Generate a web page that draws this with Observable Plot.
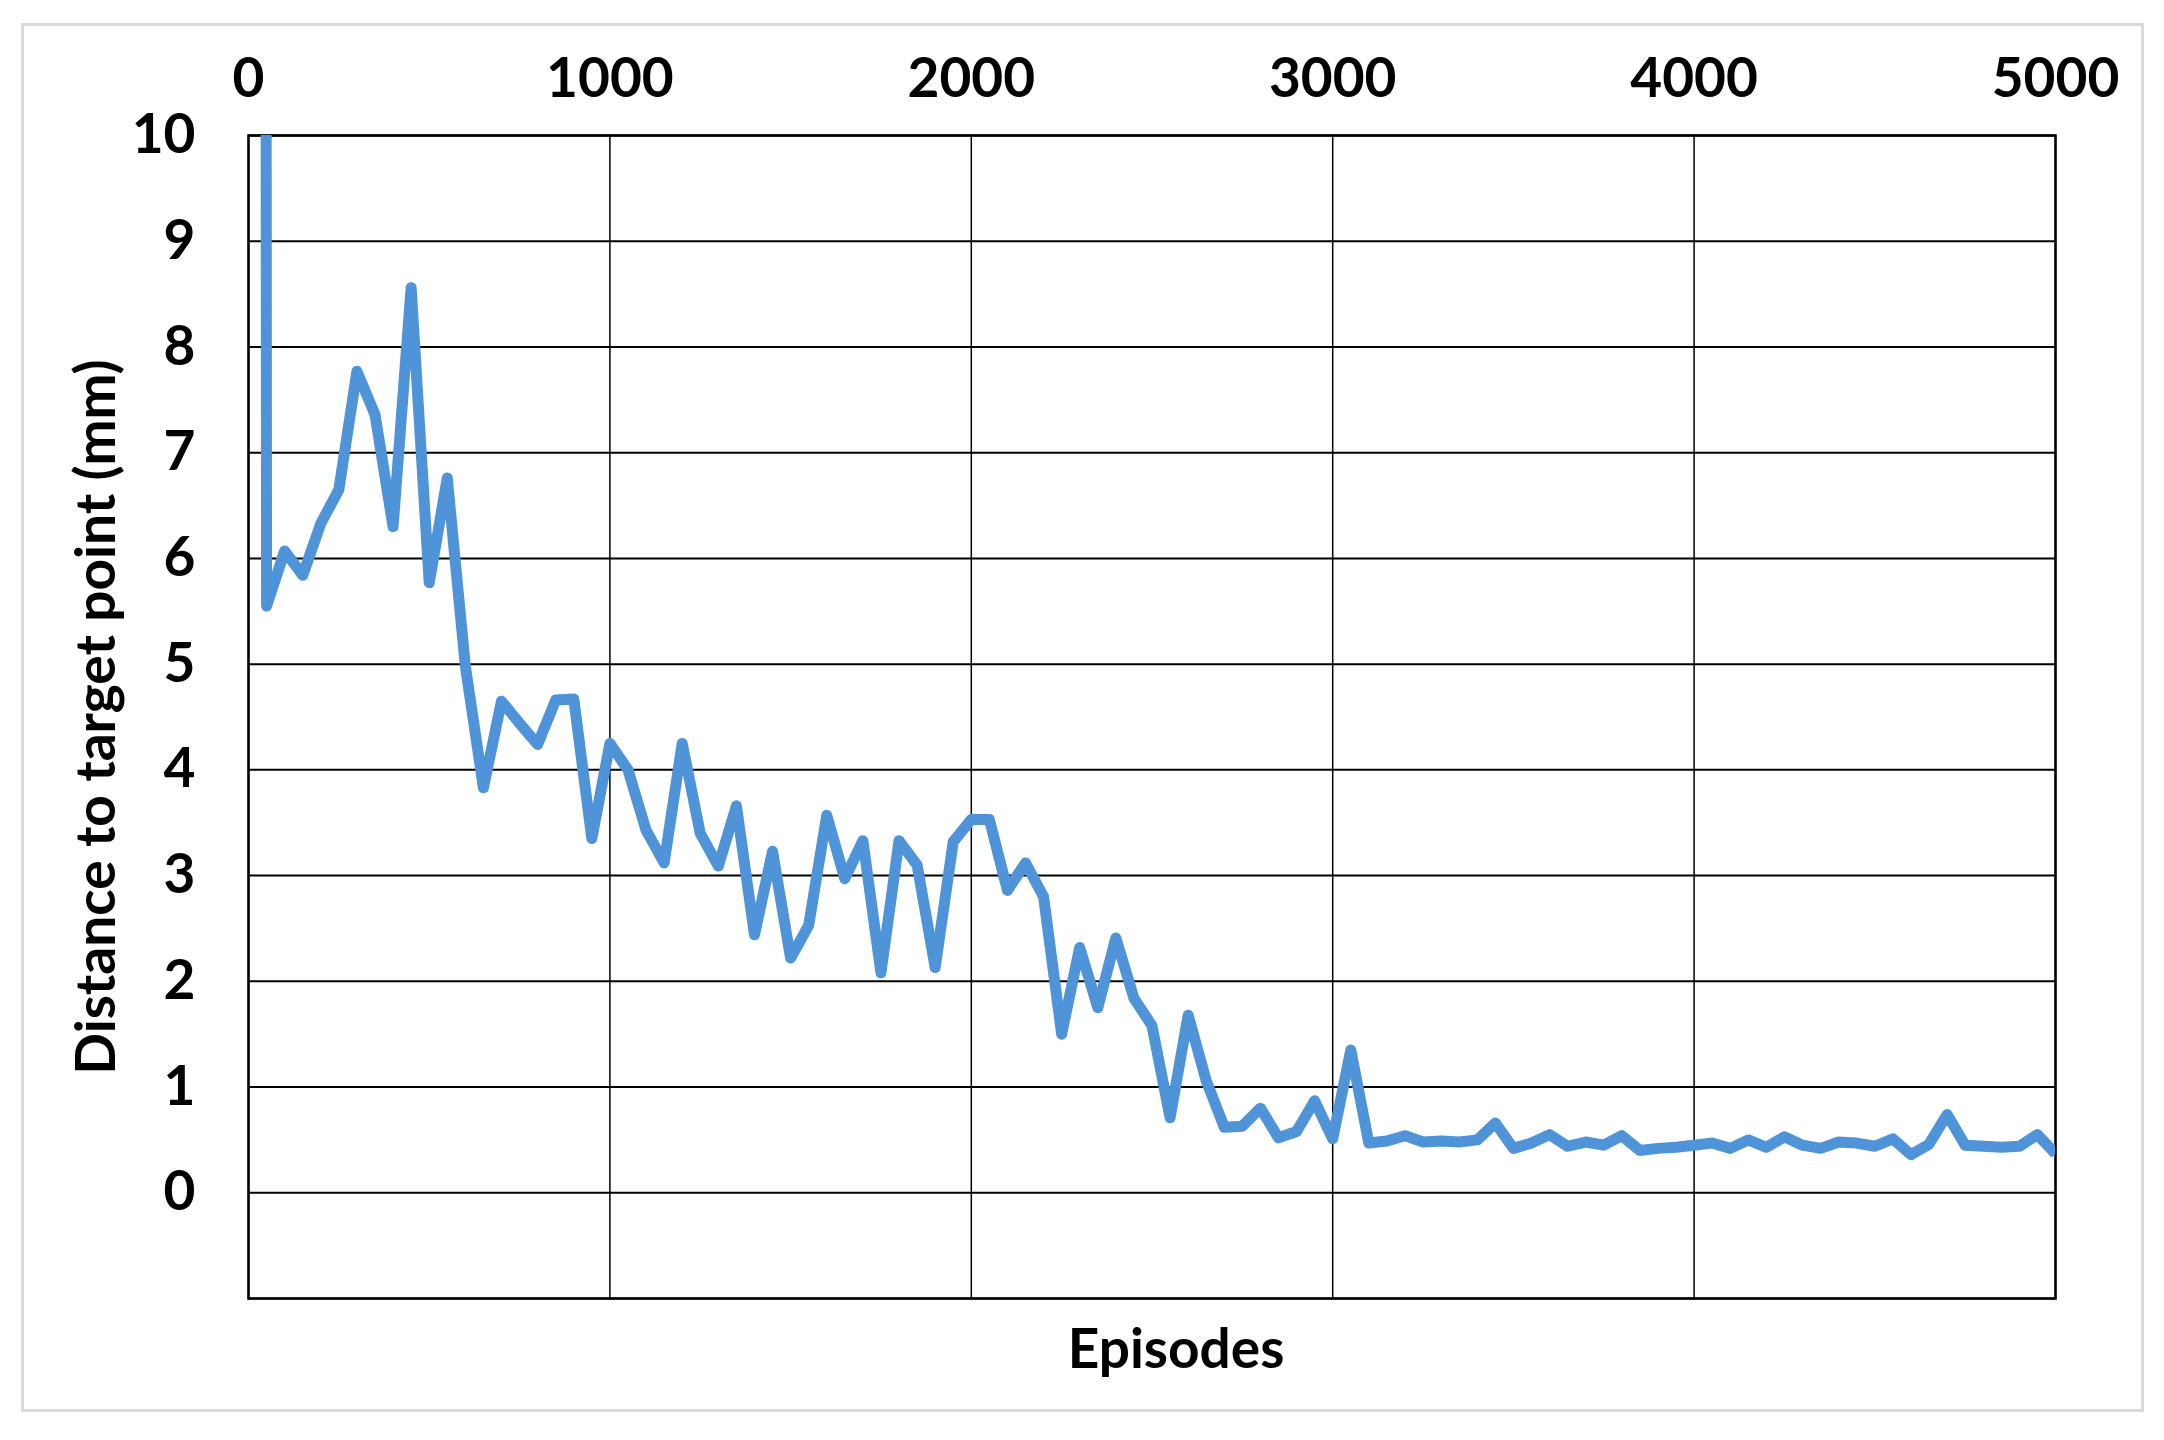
<!DOCTYPE html>
<html><head><meta charset="utf-8">
<script src="https://cdn.jsdelivr.net/npm/d3@7"></script>
<script src="https://cdn.jsdelivr.net/npm/@observablehq/plot@0.6"></script>
<style>
html,body{margin:0;padding:0;background:#fff;}
#wrap{position:relative;width:2164px;height:1440px;}
#wrap svg{position:absolute;left:0;top:0;}
#border{position:absolute;left:21px;top:23px;width:2123px;height:1389px;border:3px solid #d9d9d9;box-sizing:border-box;z-index:1;pointer-events:none;}
</style></head><body><div id="wrap"><div id="border"></div></div>
<script>
const episodes = [0,50,100,150,200,250,300,350,400,450,500,550,600,650,700,750,800,850,900,950,
1000,1050,1100,1150,1200,1250,1300,1350,1400,1450,1500,1550,1600,1650,1700,1750,1800,1850,1900,1950,
2000,2050,2100,2150,2200,2250,2300,2350,2400,2450,2500,2550,2600,2650,2700,2750,2800,2850,2900,2950,
3000,3050,3100,3150,3200,3250,3300,3350,3400,3450,3500,3550,3600,3650,3700,3750,3800,3850,3900,3950,
4000,4050,4100,4150,4200,4250,4300,4350,4400,4450,4500,4550,4600,4650,4700,4750,4800,4850,4900,4950,5000];
const distance = [200,5.55,6.07,5.84,6.33,6.65,7.77,7.36,6.30,8.56,5.77,6.76,4.98,3.83,4.65,4.44,4.24,4.66,4.67,3.35,
4.25,4.00,3.43,3.12,4.25,3.40,3.09,3.66,2.44,3.23,2.22,2.53,3.57,2.97,3.33,2.08,3.33,3.10,2.13,3.32,
3.53,3.53,2.86,3.12,2.80,1.50,2.32,1.75,2.41,1.84,1.58,0.71,1.68,1.06,0.62,0.63,0.80,0.52,0.58,0.87,
0.51,1.35,0.47,0.49,0.54,0.48,0.49,0.48,0.50,0.66,0.42,0.47,0.55,0.44,0.48,0.45,0.54,0.40,0.42,0.43,
0.45,0.47,0.42,0.50,0.43,0.53,0.45,0.42,0.48,0.47,0.44,0.51,0.36,0.46,0.74,0.45,0.44,0.43,0.44,0.55,0.37];
const xTicks = [0,1000,2000,3000,4000,5000];
const yTicks = [0,1,2,3,4,5,6,7,8,9,10];
const yGrid = [-1,0,1,2,3,4,5,6,7,8,9,10];
const xTitle = "Episodes";
const yTitle = "Distance to target point (mm)";

const data = episodes.map((e, i) => ({episode: e, distance: distance[i]}));

const chart = Plot.plot({
  width: 2164, height: 1440,
  marginLeft: 248, marginRight: 109, marginTop: 135, marginBottom: 142,
  style: {fontFamily: "Lato, 'Open Sans', sans-serif", fontWeight: 700, fontSize: "55px", color: "#000", background: "transparent"},
  x: {domain: [0, 5000]},
  y: {domain: [-1, 10]},
  marks: [
    Plot.gridY(yGrid, {stroke: "#000", strokeOpacity: 1, strokeWidth: 2}),
    Plot.gridX(xTicks, {stroke: "#000", strokeOpacity: 1, strokeWidth: 1.5}),
    Plot.frame({stroke: "#000", strokeWidth: 2.5}),
    Plot.axisX(xTicks, {anchor: "top", tickSize: 0, tickPadding: 39, label: null, fontSize: 55, fontWeight: 700, tickFormat: d3.format("d")}),
    Plot.axisY(yTicks, {anchor: "left", tickSize: 0, tickPadding: 53, label: null, fontSize: 55, fontWeight: 700, tickFormat: d3.format("d")}),
    Plot.line(data, {x: "episode", y: "distance", stroke: "#4f94d9", strokeWidth: 11, strokeLinejoin: "round", strokeLinecap: "butt", clip: true}),
    Plot.text([yTitle], {frameAnchor: "left", dx: -151, rotate: -90, textAnchor: "middle", lineAnchor: "middle", fontSize: 55, fontWeight: 700}),
    Plot.text([xTitle], {frameAnchor: "bottom", dy: 52, dx: 24, textAnchor: "middle", lineAnchor: "middle", fontSize: 55, fontWeight: 700})
  ]
});
document.getElementById("wrap").appendChild(chart);
</script>
</body></html>
